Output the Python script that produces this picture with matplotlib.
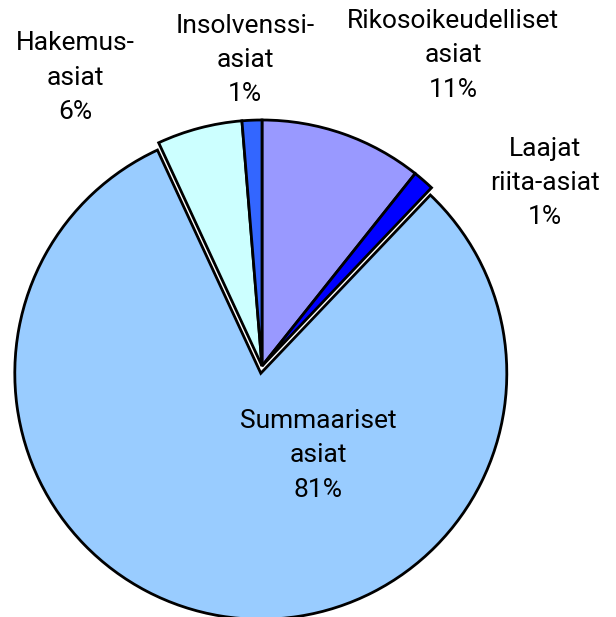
import matplotlib
matplotlib.use("Agg")
import matplotlib.pyplot as plt

categories = ["Rikosoikeudelliset\nasiat", "Laajat\nriita-asiat", "Summaariset\nasiat",
              "Hakemus-\nasiat", "Insolvenssi-\nasiat"]
values = [10.7, 1.4, 81.0, 5.6, 1.3]
pct_labels = ["11%", "1%", "81%", "6%", "1%"]
colors = ["#9999FF", "#0000FF", "#99CCFF", "#CCFFFF", "#3366FF"]
explode = [0, 0, 0.03, 0, 0]
label_pos = [(0.776, 1.264), (1.150, 0.744), (0.228, -0.362), (-0.760, 1.171), (-0.069, 1.244)]

plt.rcParams['font.family'] = ['Roboto', 'DejaVu Sans']

fig = plt.figure(figsize=(6.16, 6.17), dpi=100)
ax = fig.add_axes([0, 0, 1, 1])
ax.pie(values, colors=colors, startangle=90, counterclock=False, explode=explode,
       radius=1.0, wedgeprops=dict(edgecolor="black", linewidth=2.0))
for cat, pct, (x, y) in zip(categories, pct_labels, label_pos):
    ax.text(x, y, cat + "\n" + pct, ha="center", va="center", fontsize=19,
            linespacing=1.55, color="black")
ax.set_xlim(-262/246, 354/246)
ax.set_ylim((366-617)/246, 366/246)
ax.set_aspect("auto")
ax.axis("off")
fig.savefig("out.png", dpi=100)
